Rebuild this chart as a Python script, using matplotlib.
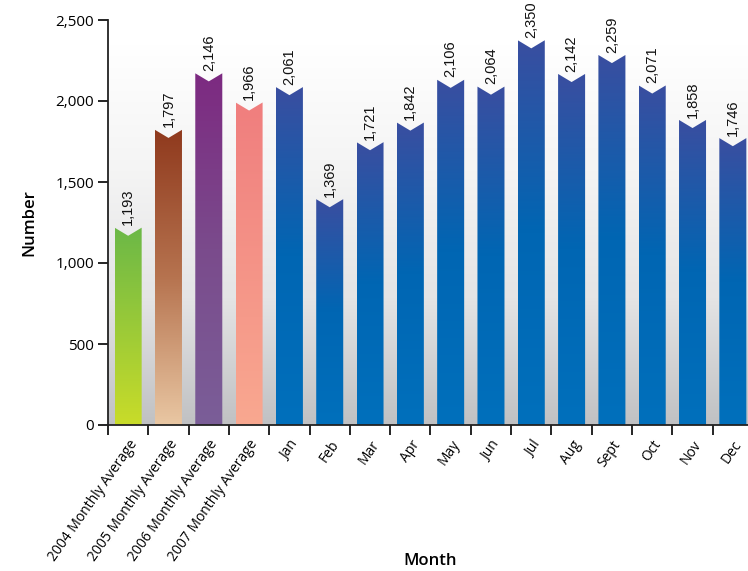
import numpy as np
import matplotlib
matplotlib.use('Agg')
import matplotlib.pyplot as plt
from matplotlib.patches import Polygon
from matplotlib.colors import LinearSegmentedColormap

# data
categories = ['2004 Monthly Average', '2005 Monthly Average', '2006 Monthly Average',
              '2007 Monthly Average', 'Jan', 'Feb', 'Mar', 'Apr', 'May', 'Jun',
              'Jul', 'Aug', 'Sept', 'Oct', 'Nov', 'Dec']
values = [1193, 1797, 2146, 1966, 2061, 1369, 1721, 1842, 2106, 2064,
          2350, 2142, 2259, 2071, 1858, 1746]

# gradient stops (top -> bottom) for each bar
avg_grads = [['#6bb847', '#c9dc29'],
             ['#8f391d', '#b6734f', '#e9c7a3'],
             ['#7d2a81', '#7a4b8c', '#7b5e98'],
             ['#f07e7e', '#f9a890']]
month_grad = ['#3a4ea0', '#0066b3', '#0070bc']
grads = avg_grads + [month_grad] * 12

barW = 0.67
notch = 25  # half depth of the top notch, in data units

fig = plt.figure(figsize=(7.48, 5.71), dpi=100)
ax = fig.add_axes([108/748, 1 - 425/571, 645/748, 405/571])

# grey background gradient behind the bars, fading to white at the top
bg = LinearSegmentedColormap.from_list('bg', ['#c0c1c3', '#e4e4e5', '#f4f4f4', '#ffffff'])
ax.imshow(np.linspace(0, 1, 256).reshape(-1, 1), cmap=bg, origin='lower',
          extent=[-0.5, len(values) - 0.5, 0, 2350], aspect='auto', zorder=0)

for i, v in enumerate(values):
    x0, x1 = i - barW/2, i + barW/2
    verts = [(x0, 0), (x1, 0), (x1, v + notch), (i, v - notch), (x0, v + notch)]
    patch = Polygon(verts, closed=True, facecolor='none', edgecolor='none')
    ax.add_patch(patch)
    cmap = LinearSegmentedColormap.from_list('b%d' % i, grads[i][::-1])
    im = ax.imshow(np.linspace(0, 1, 256).reshape(-1, 1), cmap=cmap, origin='lower',
                   extent=[x0, x1, 0, v + notch], aspect='auto', zorder=2)
    im.set_clip_path(patch)
    ax.text(i, v + 40, '{:,}'.format(v), rotation=90, ha='center', va='bottom',
            fontsize=10.5, family='Liberation Sans', color='#111111', zorder=3)

ax.set_xlim(-0.5, len(values) - 0.5)
ax.set_ylim(0, 2500)

ax.set_yticks(range(0, 2501, 500))
ax.set_yticklabels(['{:,}'.format(t) for t in range(0, 2501, 500)],
                   family='Open Sans', fontsize=11)
ax.set_xticks(np.arange(len(values)))
ax.set_xticklabels(categories, rotation=55, ha='right', va='top',
                   rotation_mode='anchor', family='Open Sans', fontsize=10)
ax.set_xticks(np.arange(len(values) + 1) - 0.5, minor=True)
ax.tick_params(axis='x', which='major', length=0, pad=9)
ax.tick_params(axis='x', which='minor', length=7, width=1.2, direction='out')
ax.tick_params(axis='y', length=7, width=1.2, direction='out', pad=3)

for s in ['top', 'right']:
    ax.spines[s].set_visible(False)
for s in ['left', 'bottom']:
    ax.spines[s].set_linewidth(1.3)
    ax.spines[s].set_color('#222222')

ax.set_ylabel('Number', family='Open Sans', fontsize=12, fontweight='semibold')
ax.yaxis.set_label_coords(-0.11, 0.5)
ax.set_xlabel('Month', family='Open Sans', fontsize=12, fontweight='semibold')
ax.xaxis.set_label_coords(0.5, -0.315)

fig.savefig('out.png', dpi=100)
